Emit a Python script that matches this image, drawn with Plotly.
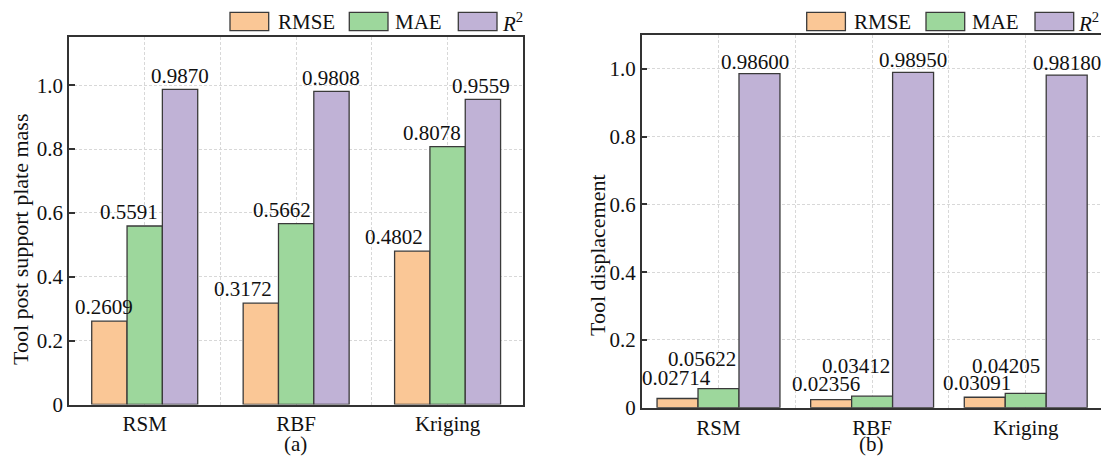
import plotly.graph_objects as go

# ---------------- data ----------------
categories = ["RSM", "RBF", "Kriging"]
series_names = ["RMSE", "MAE", "R2"]

mass_rmse = [0.2609, 0.3172, 0.4802]
mass_mae = [0.5591, 0.5662, 0.8078]
mass_r2 = [0.9870, 0.9808, 0.9559]

disp_rmse = [0.02714, 0.02356, 0.03091]
disp_mae = [0.05622, 0.03412, 0.04205]
disp_r2 = [0.98600, 0.98950, 0.98180]

ytick_vals = [0, 0.2, 0.4, 0.6, 0.8, 1.0]
ytick_text = ["0", "0.2", "0.4", "0.6", "0.8", "1.0"]

left_title = "Tool post support plate mass"
right_title = "Tool displacement"
panel_labels = ["(a)", "(b)"]

# ---------------- style ----------------
W, H = 1101, 456
FONT = "Liberation Serif, Times New Roman, serif"
FS = 21
FS_TITLE = 22
colors = ["#FAC796", "#9DD79C", "#C0B2D6"]
edge = "#3a3a3a"
grid = "#d8d8d8"
frame = "#333333"
GDASH = "3px,2px"
TXT = "#111111"


def px(x):
    return x / W


def py(y):
    return 1 - y / H


xpos = list(range(len(categories)))

fig = go.Figure()

panels = [
    dict(vals=[mass_rmse, mass_mae, mass_r2], fmt="{:.4f}", xa="x", ya="y",
         width=0.2333,
         xshift=[[-5, -18, -18], [-16, -14, -16], [0, 0, -2]],
         yshift=[[0, 0, 0], [0, 0, 0], [-1, -1, -1]]),
    dict(vals=[disp_rmse, disp_mae, disp_r2], fmt="{:.5f}", xa="x2", ya="y2",
         width=0.2667,
         xshift=[[-1, -5, -8], [-17, -16, -20], [-4, 0, 0]],
         yshift=[[7, 2, 0], [16, 16, 13], [-2, -2, -2]]),
]

annotations = []
for p in panels:
    w = p["width"]
    for j, vals in enumerate(p["vals"]):
        off = -1.5 * w + j * w
        fig.add_trace(go.Bar(
            x=xpos, y=vals, xaxis=p["xa"], yaxis=p["ya"],
            width=w, offset=off, name=series_names[j], showlegend=False,
            marker=dict(color=colors[j], line=dict(color=edge, width=1.3)),
        ))
        for i, v in enumerate(vals):
            annotations.append(dict(
                x=xpos[i] + off + w / 2, y=v, xref=p["xa"], yref=p["ya"],
                text=p["fmt"].format(v), showarrow=False,
                xanchor="center", yanchor="bottom",
                xshift=p["xshift"][j][i], yshift=p["yshift"][j][i],
                font=dict(family=FONT, size=FS, color=TXT),
            ))

axis_common = dict(
    showline=True, linecolor=frame, linewidth=1.5, mirror=True,
    automargin=False, zeroline=False,
    showgrid=True, gridcolor=grid, griddash=GDASH, gridwidth=1,
    tickfont=dict(family=FONT, size=FS, color=TXT),
)
xminor = dict(tickvals=[0.5, 1.5], showgrid=True, gridcolor=grid,
              griddash=GDASH, gridwidth=1, ticks="")

fig.update_layout(
    width=W, height=H, margin=dict(l=0, r=0, t=0, b=0, autoexpand=False),
    paper_bgcolor="white", plot_bgcolor="white",
    barmode="overlay", showlegend=False,
    font=dict(family=FONT, size=FS, color=TXT),
    xaxis=dict(domain=[px(69), px(523.3)], range=[-0.5, 2.5],
               tickvals=xpos, ticktext=categories, ticks="",
               minor=xminor, anchor="y", **axis_common),
    yaxis=dict(domain=[py(404.5), py(37.3)], range=[0, 1.15],
               tickvals=ytick_vals, ticktext=ytick_text,
               ticks="inside", ticklen=6, tickwidth=1.5, tickcolor=frame,
               anchor="x", **axis_common),
    xaxis2=dict(domain=[px(641.7), 1.0], range=[-0.5, 2.49],
                tickvals=xpos, ticktext=categories, ticks="",
                minor=xminor, anchor="y2", **axis_common),
    yaxis2=dict(domain=[py(407.7), py(35)], range=[0, 1.1],
                tickvals=ytick_vals, ticktext=ytick_text,
                ticks="inside", ticklen=6, tickwidth=1.5, tickcolor=frame,
                anchor="x2", **axis_common),
)

# axis titles as annotations
annotations.append(dict(x=px(20), y=py(240), xref="paper", yref="paper",
                        text=left_title, textangle=-90, showarrow=False,
                        xanchor="center", yanchor="middle",
                        font=dict(family=FONT, size=FS_TITLE, color=TXT)))
annotations.append(dict(x=px(597), y=py(255), xref="paper", yref="paper",
                        text=right_title, textangle=-90, showarrow=False,
                        xanchor="center", yanchor="middle",
                        font=dict(family=FONT, size=FS_TITLE, color=TXT)))
annotations.append(dict(x=px(296), y=py(444), xref="paper", yref="paper",
                        text=panel_labels[0], showarrow=False,
                        xanchor="center", yanchor="middle",
                        font=dict(family=FONT, size=FS, color=TXT)))
annotations.append(dict(x=px(871.5), y=py(444), xref="paper", yref="paper",
                        text=panel_labels[1], showarrow=False,
                        xanchor="center", yanchor="middle",
                        font=dict(family=FONT, size=FS, color=TXT)))

# manual legends (one per panel)
legend_labels = ["RMSE", "MAE", "<i>R</i><sup>2</sup>"]
box_x = [230, 349.3, 458.3]
text_x = [277.7, 395, 501.7]
shapes = []
for dx in (0, 576.7):
    for j in range(3):
        shapes.append(dict(type="rect", xref="paper", yref="paper",
                           x0=px(box_x[j] + dx), x1=px(box_x[j] + dx + 38.7),
                           y0=py(30.7), y1=py(12.3),
                           fillcolor=colors[j], line=dict(color=edge, width=1.3)))
        annotations.append(dict(x=px(text_x[j] + dx - 2), y=py(22), xref="paper", yref="paper",
                                text=legend_labels[j], showarrow=False,
                                xanchor="left", yanchor="middle",
                                font=dict(family=FONT, size=FS, color=TXT)))

fig.update_layout(annotations=annotations, shapes=shapes)
fig.write_html("out.html")
